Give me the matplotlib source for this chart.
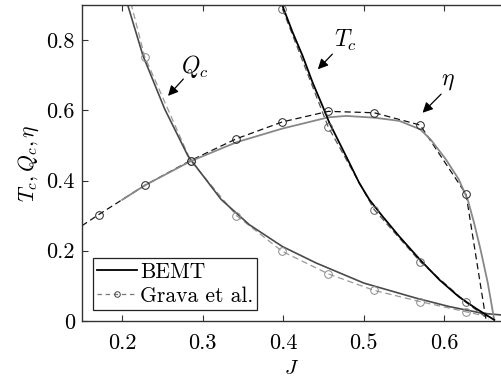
import matplotlib
matplotlib.use("Agg")
import matplotlib.pyplot as plt
from matplotlib.lines import Line2D

plt.rcParams['font.family'] = 'serif'
plt.rcParams['font.serif'] = ['cmr10', 'DejaVu Serif']
plt.rcParams['mathtext.fontset'] = 'cm'
plt.rcParams['axes.unicode_minus'] = False

# ---- BEMT data ----
bemt_J_eta = [0.200, 0.228, 0.285, 0.342, 0.399, 0.456, 0.478, 0.513, 0.544, 0.570,
              0.583, 0.602, 0.618, 0.629, 0.637, 0.645, 0.654, 0.662]
bemt_eta = [0.345, 0.386, 0.455, 0.509, 0.548, 0.580, 0.584, 0.579, 0.570, 0.546,
            0.517, 0.460, 0.403, 0.346, 0.279, 0.203, 0.108, 0.003]

bemt_J_Tc = [0.397, 0.4117, 0.4241, 0.4365, 0.4489, 0.4572, 0.4696, 0.4820, 0.4944,
             0.5068, 0.5233, 0.544, 0.570, 0.594, 0.618, 0.639, 0.662]
bemt_Tc = [0.910, 0.822, 0.755, 0.679, 0.612, 0.565, 0.508, 0.451, 0.393,
           0.346, 0.298, 0.241, 0.174, 0.117, 0.069, 0.036, 0.003]

bemt_J_Qc = [0.205, 0.226, 0.253, 0.282, 0.323, 0.358, 0.399, 0.441, 0.500, 0.565,
             0.606, 0.647, 0.671]
bemt_Qc = [0.915, 0.755, 0.603, 0.469, 0.346, 0.274, 0.212, 0.165, 0.108, 0.065,
           0.041, 0.022, 0.017]

# ---- Grava et al. data (markers) ----
grava_J = [0.171, 0.228, 0.285, 0.342, 0.399, 0.456, 0.513, 0.570, 0.627]
grava_eta = [0.303, 0.386, 0.457, 0.519, 0.567, 0.597, 0.593, 0.558, 0.361]
grava_J_Qc = [0.228, 0.285, 0.342, 0.399, 0.456, 0.513, 0.570, 0.627]
grava_Qc = [0.753, 0.457, 0.300, 0.198, 0.134, 0.087, 0.055, 0.026]
grava_J_Tc = [0.399, 0.456, 0.513, 0.570, 0.627]
grava_Tc = [0.889, 0.552, 0.317, 0.169, 0.053]

# ---- Grava et al. dashed curves (extended beyond markers) ----
grava_line_J_eta = [0.150] + grava_J + [0.652]
grava_line_eta = [0.271] + grava_eta + [0.0]
grava_line_J_Qc = [0.211] + grava_J_Qc + [0.655]
grava_line_Qc = [0.905] + grava_Qc + [0.012]
grava_line_J_Tc = grava_J_Tc + [0.655]
grava_line_Tc = grava_Tc + [0.005]

xticks = [0.2, 0.3, 0.4, 0.5, 0.6]
xticklabels = ['0.2', '0.3', '0.4', '0.5', '0.6']
yticks = [0, 0.2, 0.4, 0.6, 0.8]
yticklabels = ['0', '0.2', '0.4', '0.6', '0.8']

fig = plt.figure(figsize=(5.02, 3.83), dpi=100)
ax = fig.add_axes([0.163, 0.162, 0.836, 0.825])

c_eta = '#888888'
c_Qc = '#4a4a4a'
c_Tc = '#000000'

# Grava dashed lines
ax.plot(grava_line_J_Qc, grava_line_Qc, '--', color='#9a9a9a', lw=0.9, dashes=(5, 3))
ax.plot(grava_line_J_Tc, grava_line_Tc, '--', color='#555555', lw=0.9, dashes=(5, 3))
ax.plot(grava_line_J_eta, grava_line_eta, '--', color='#111111', lw=0.9, dashes=(5, 3))

# BEMT solid lines
ax.plot(bemt_J_Qc, bemt_Qc, '-', color=c_Qc, lw=1.2)
ax.plot(bemt_J_eta, bemt_eta, '-', color=c_eta, lw=1.3)
ax.plot(bemt_J_Tc, bemt_Tc, '-', color=c_Tc, lw=1.3)

# Grava markers
ax.plot(grava_J_Qc, grava_Qc, 'o', ms=5.5, mfc='none', mec='#8a8a8a', mew=0.7, ls='none')
ax.plot(grava_J_Tc, grava_Tc, 'o', ms=5.5, mfc='none', mec='#666666', mew=0.7, ls='none')
ax.plot(grava_J, grava_eta, 'o', ms=5.5, mfc='none', mec='#222222', mew=0.7, ls='none')

ax.set_xlim(0.15, 0.671)
ax.set_ylim(0, 0.9)
ax.set_xticks(xticks)
ax.set_xticklabels(xticklabels)
ax.set_yticks(yticks)
ax.set_yticklabels(yticklabels)
ax.tick_params(direction='in', length=4, width=0.8, labelsize=16, top=True,
               right=False, color='#333333')
ax.tick_params(axis='x', pad=9)
ax.tick_params(axis='y', pad=5)
for s in ['left', 'bottom', 'top']:
    ax.spines[s].set_color('#333333')
    ax.spines[s].set_linewidth(1.0)
ax.spines['right'].set_visible(False)

ax.set_xlabel(r'$J$', fontsize=15, labelpad=5)
ax.set_ylabel(r'$T_c, Q_c, \eta$', fontsize=15.5, labelpad=4)

arrowprops = dict(arrowstyle='-|>', color='black', lw=0.9, mutation_scale=15,
                  shrinkA=0, shrinkB=0)
ax.annotate('', xy=(0.257, 0.641), xytext=(0.276, 0.689), arrowprops=arrowprops)
ax.text(0.290, 0.726, r'$Q_c$', fontsize=17, ha='center', va='center')
ax.annotate('', xy=(0.443, 0.717), xytext=(0.461, 0.760), arrowprops=arrowprops)
ax.text(0.477, 0.798, r'$T_c$', fontsize=17, ha='center', va='center')
ax.annotate('', xy=(0.573, 0.593), xytext=(0.596, 0.646), arrowprops=arrowprops)
ax.text(0.604, 0.684, r'$\eta$', fontsize=17, ha='center', va='center')

handles = [Line2D([], [], color='black', lw=1.3),
           Line2D([], [], color='#777777', lw=0.9, ls='--', dashes=(3.5, 3),
                  marker='o', ms=4, mfc='none', mec='#444444', mew=0.7)]
leg = ax.legend(handles, ['BEMT', 'Grava et al.'], loc='lower left',
                bbox_to_anchor=(0.0255, 0.035), fontsize=15.5, fancybox=False,
                framealpha=1, edgecolor='#222222', borderpad=0.2,
                handlelength=1.85, handletextpad=0.15, labelspacing=0.2,
                borderaxespad=0)
leg.get_frame().set_linewidth(0.9)

fig.savefig('out.png', dpi=100)
